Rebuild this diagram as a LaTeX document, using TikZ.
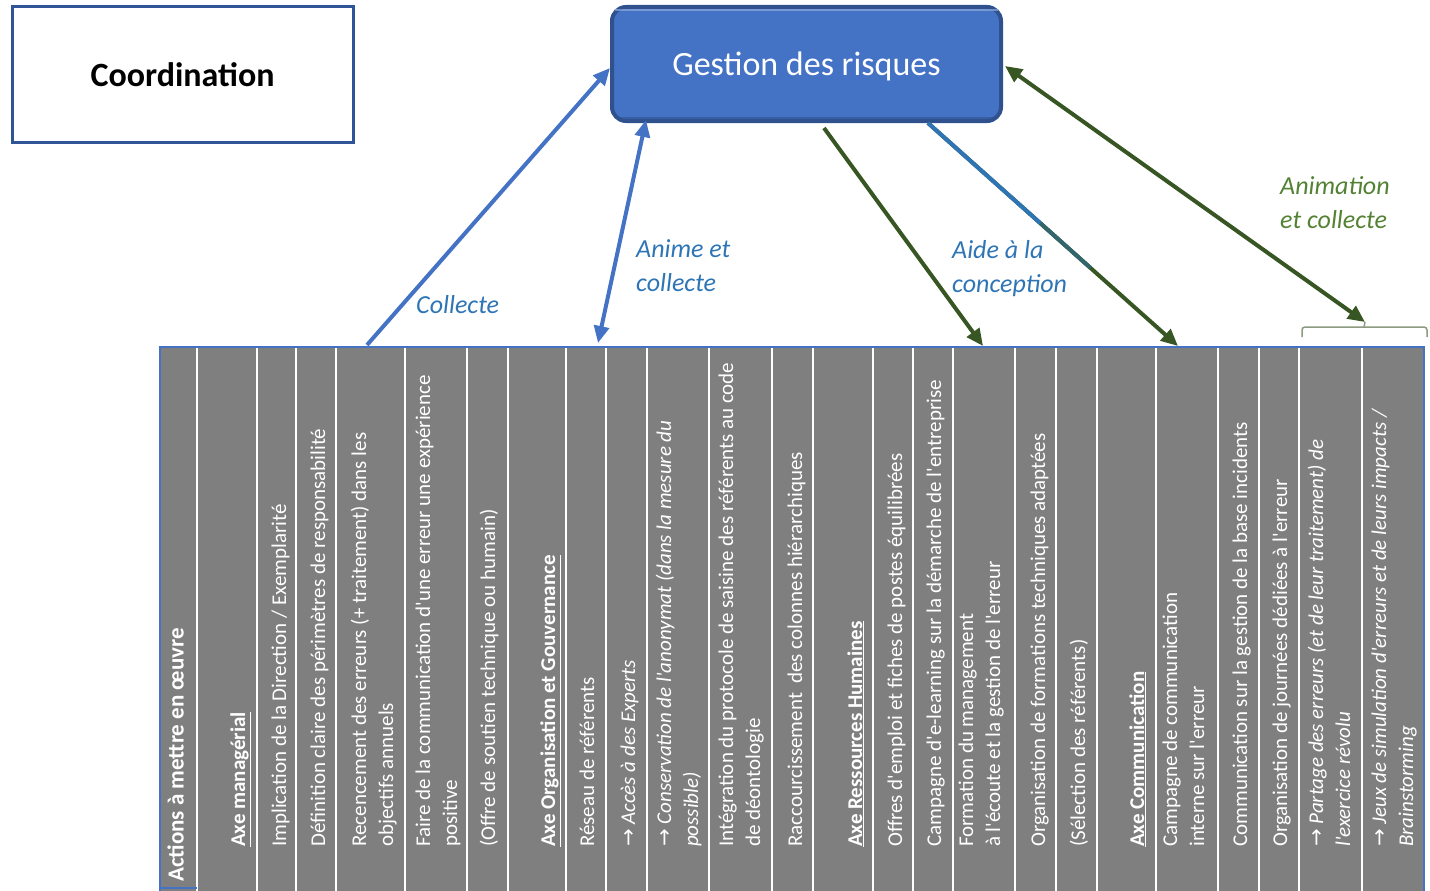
\documentclass[tikz,border=0pt]{standalone}
\usepackage{fontspec}
\setmainfont{Carlito}[Ligatures=TeXOff]
\newfontfamily\dvfont{DejaVu Sans}
\usetikzlibrary{arrows.meta,calc}
\definecolor{tblgray}{HTML}{7F7F7F}
\definecolor{tblblue}{HTML}{4472C4}
\definecolor{boxblue}{HTML}{4472C4}
\definecolor{boxedge}{HTML}{2F528F}
\definecolor{coordedge}{HTML}{2F5597}
\definecolor{arrblue}{HTML}{4472C4}
\definecolor{arrblueb}{HTML}{2E75B6}
\definecolor{arrgreen}{HTML}{375623}
\definecolor{lblblue}{HTML}{2E75B6}
\definecolor{lblgreen}{HTML}{548235}
\definecolor{bracegray}{HTML}{8C9A80}
\newcommand\arw{{\dvfont\fontsize{21}{27}\selectfont →}\ }
\tikzset{bigtip/.tip={Triangle[length=17pt,width=15pt]}}
\begin{document}
\begin{tikzpicture}[x=1pt,y=-1pt,
  cell/.style={rotate=90,anchor=north west,inner sep=0pt,text=white,align=left,font=\fontsize{21}{27}\selectfont},
  axe/.style={cell,font=\fontsize{21}{27}\selectfont\bfseries},
  lbl/.style={anchor=north west,inner sep=0pt,align=left,font=\fontsize{26}{34}\selectfont\itshape},
  conn/.style={line width=4pt},
  sep/.style={white,line width=2pt}
]
\useasboundingbox (0,0) rectangle (1430,891);

% table
\node[fill=tblgray,inner sep=0pt,minimum width=1264pt,minimum height=544pt,anchor=north west] (tbl) at (160,347) {};
\foreach \x in {197,257,295.5,336,405,466.5,507.5,565.5,606,647,709,772,813,872.5,913,952.5,1015,1055.5,1096.5,1156,1218,1259,1299,1362}
  \draw[sep] (\x,347) -- (\x,891);
\draw[tblblue,line width=2pt] (160,891) -- (160,347) -- (1424,347) -- (1424,891);
\draw[tblblue,line width=2pt] (160,888) -- (197,888);

% table texts
\node[cell,font=\fontsize{23}{27}\selectfont\bfseries] (c1) at (164.6,882) {\strut Actions à mettre en œuvre};
\node[axe] (c2) at (226,847) {\strut\underline{Axe managérial}};
\node[cell] (c3) at (267,847) {\strut Implication de la Direction / Exemplarité};
\node[cell] (c4) at (306,847) {\strut Définition claire des périmètres de responsabilité};
\node[cell] (c5) at (347,847) {\strut Recencement des erreurs (+ traitement) dans les\\objectifs annuels};
\node[cell] (c6) at (411,847) {\strut Faire de la communication d'une erreur une expérience\\positive};
\node[cell] (c7) at (476,847) {\strut(Offre de soutien technique ou humain)};
\node[axe] (c8) at (536,847) {\strut\underline{Axe Organisation et Gouvernance}};
\node[cell] (c9) at (575,847) {\strut Réseau de référents};
\node[cell] (c10) at (616,847) {\strut\arw{\itshape Accès à des Experts}};
\node[cell] (c11) at (652,847) {\strut\arw{\itshape Conservation de l'anonymat (dans la mesure du}\\{\itshape possible)}};
\node[cell] (c12) at (714,847) {\strut Intégration du protocole de saisine des référents au code\\de déontologie};
\node[cell] (c13) at (783,847) {\strut Raccourcissement~ des colonnes hiérarchiques};
\node[axe] (c14) at (843,847) {\strut\underline{Axe Ressources Humaines}};
\node[cell] (c15) at (883,847) {\strut Offres d'emploi et fiches de postes équilibrées};
\node[cell] (c16) at (922,847) {\strut Campagne d'e-learning sur la démarche de l'entreprise};
\node[cell] (c17) at (954,847) {\strut Formation du management\\à l'écoute et la gestion de l'erreur};
\node[cell] (c18) at (1026,847) {\strut Organisation de formations techniques adaptées};
\node[cell] (c19) at (1066,847) {\strut(Sélection des référents)};
\node[axe] (c20) at (1125,847) {\strut\underline{Axe Communication}};
\node[cell] (c21) at (1158,847) {\strut Campagne de communication\\interne sur l'erreur};
\node[cell] (c22) at (1228,847) {\strut Communication sur la gestion de la base incidents};
\node[cell] (c23) at (1268,847) {\strut Organisation de journées dédiées à l'erreur};
\node[cell] (c24) at (1304,847) {\strut\arw{\itshape Partage des erreurs (et de leur traitement) de}\\{\itshape l'exercice révolu}};
\node[cell] (c25) at (1367,847) {\strut\arw{\itshape Jeux de simulation d'erreurs et de leurs impacts /}\\{\itshape Brainstorming}};

% top boxes
\node[draw=coordedge,line width=3pt,fill=white,minimum width=341pt,minimum height=135pt,inner sep=0pt,
  font=\fontsize{34}{40}\selectfont\bfseries] (coord) at (182.5,74.5) {Coordination};
\node[draw=boxedge,line width=4pt,fill=boxblue,rounded corners=14pt,minimum width=389pt,minimum height=114pt,
  inner sep=0pt,text depth=0pt,text=white,font=\fontsize{34}{40}\selectfont] (gr) at (806.5,64) {Gestion des risques};
\draw[boxblue!60!white,line width=1.2pt,rounded corners=10pt,opacity=0.7]
  ([shift={(5pt,-5pt)}]gr.north west) -- ([shift={(-5pt,-5pt)}]gr.north east);
\draw[boxedge,line width=2pt,rounded corners=10pt,opacity=0.6]
  ([shift={(6pt,5pt)}]gr.south west) -- ([shift={(-6pt,5pt)}]gr.south east);

% connector end points
\coordinate (p1) at (367,345);
\coordinate (p2) at (598,343);
\coordinate (p3) at (983,346);
\coordinate (p4) at (1178,346);
\coordinate (p5) at (1365,322);
\coordinate (s2) at ([xshift=36pt,yshift=3pt]gr.south west);
\coordinate (s3) at ([xshift=214pt,yshift=-5pt]gr.south west);
\coordinate (s4) at ([xshift=318pt]gr.south west);

% bracket
\draw[bracegray,line width=1.5pt,rounded corners=3pt] (1302,337) -- (1302,327) -- (1427,327) -- (1427,337);
\draw[bracegray,line width=1.5pt] (1364,327) -- (p5);

% connectors
\draw[conn,arrblue,-{bigtip}] (p1) -- ([yshift=-4pt]gr.west);
\draw[conn,arrblue,{bigtip}-{bigtip}] (s2) -- (p2);
\draw[conn,arrgreen,-{bigtip}] (s3) -- (p3);
\draw[conn,arrgreen,-{bigtip}] (s4) -- (p4);
\draw[conn,arrblueb] (s4) -- ($(s4)!0.45!(p4)$);
\draw[conn,arrblueb!50!arrgreen] ($(s4)!0.45!(p4)$) -- ($(s4)!0.65!(p4)$);
\draw[conn,arrgreen,{bigtip}-{bigtip}] ([xshift=2pt,yshift=-2pt]gr.east) -- (p5);

% labels
\node[lbl,text=lblblue] (lcol) at (416,289) {\strut Collecte};
\node[lbl,text=lblblue] (lani) at (636,233) {\strut Anime et\\collecte};
\node[lbl,text=lblblue] (laid) at (952,234) {\strut Aide à la\\conception};
\node[lbl,text=lblgreen] (lanim) at (1280,170) {\strut Animation\\et collecte};
\end{tikzpicture}
\end{document}
